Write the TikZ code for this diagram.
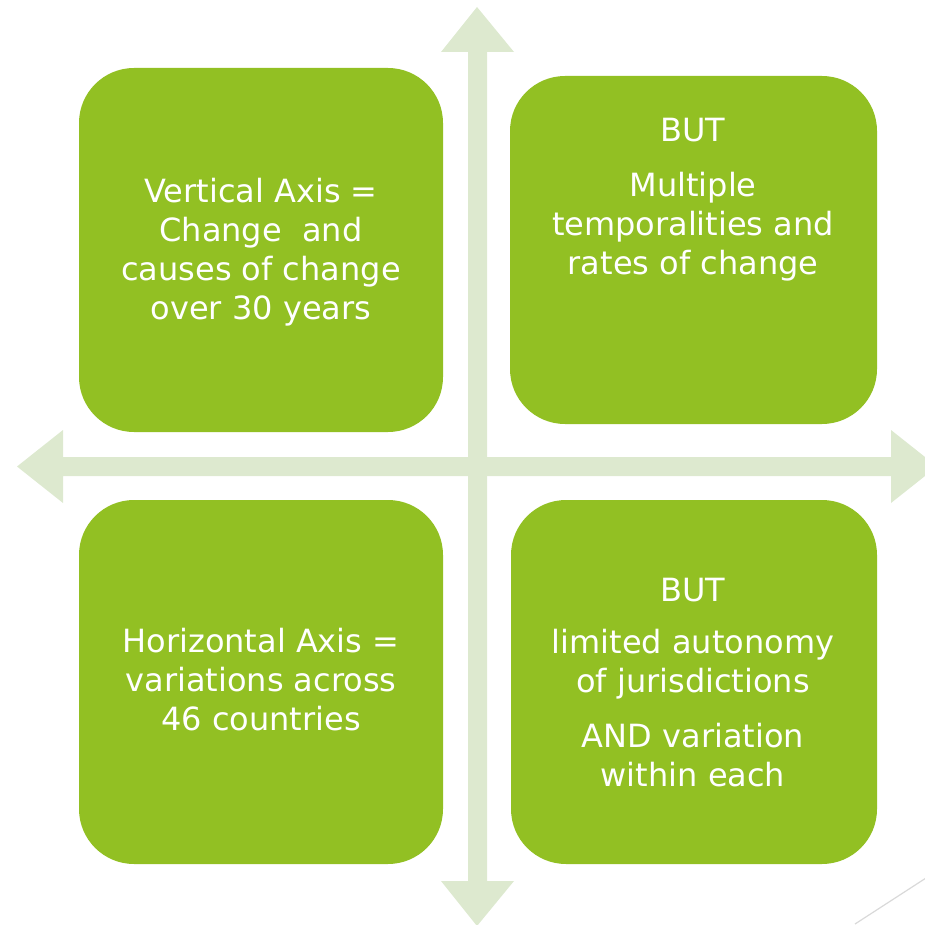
\documentclass[tikz,border=0pt]{standalone}
\usepackage{fontspec}
\setmainfont{DejaVu Sans}
\definecolor{boxgreen}{HTML}{92C023}
\definecolor{axisgreen}{HTML}{DDE9CF}
\definecolor{cornergray}{HTML}{D9D9D9}
\tikzset{
  quad/.style={rectangle, rounded corners=55pt, fill=boxgreen, draw=none, inner sep=0pt},
  quadtext/.style={text=white, align=center, inner sep=0pt, anchor=north,
    font=\fontsize{32}{39}\selectfont},
  axis/.style={fill=axisgreen, draw=none}
}
\begin{document}
\begin{tikzpicture}[x=1pt,y=-1pt]
\useasboundingbox (0,0) rectangle (925,925);
\begin{scope}
\clip (0,0) rectangle (925,925);
% axes
\fill[axis] (468,52) -- (441,52) -- (477,7) -- (514,52) -- (487,52) -- (487,881) -- (514,881) -- (477,926) -- (441,881) -- (468,881) -- cycle;
\fill[axis] (63,457) -- (63,430) -- (17,466.5) -- (63,503) -- (63,476) -- (891,476) -- (891,503) -- (937,466.5) -- (891,430) -- (891,457) -- cycle;
\draw[cornergray, line width=1.2pt] (855,924) -- (926,878);
\end{scope}
% boxes
\node[quad, minimum width=364pt, minimum height=364pt] (tl) at (261,250) {};
\node[quad, minimum width=367pt, minimum height=348pt] (tr) at (693.5,250) {};
\node[quad, minimum width=364pt, minimum height=364pt] (bl) at (261,682) {};
\node[quad, minimum width=366pt, minimum height=364pt] (br) at (694,682) {};
% texts
\node[quadtext] (tltext) at (261,178) {Vertical Axis =\\Change \ and\\causes of change\\over 30 years};
\node[quadtext] (trtext) at (693,118) {BUT\\[16pt]Multiple\\temporalities and\\rates of change};
\node[quadtext] (bltext) at (261,628) {Horizontal Axis =\\variations across\\46 countries};
\node[quadtext] (brtext) at (693,578) {BUT\\[13pt]limited autonomy\\of jurisdictions\\[16pt]AND variation\\within each};
\end{tikzpicture}
\end{document}
